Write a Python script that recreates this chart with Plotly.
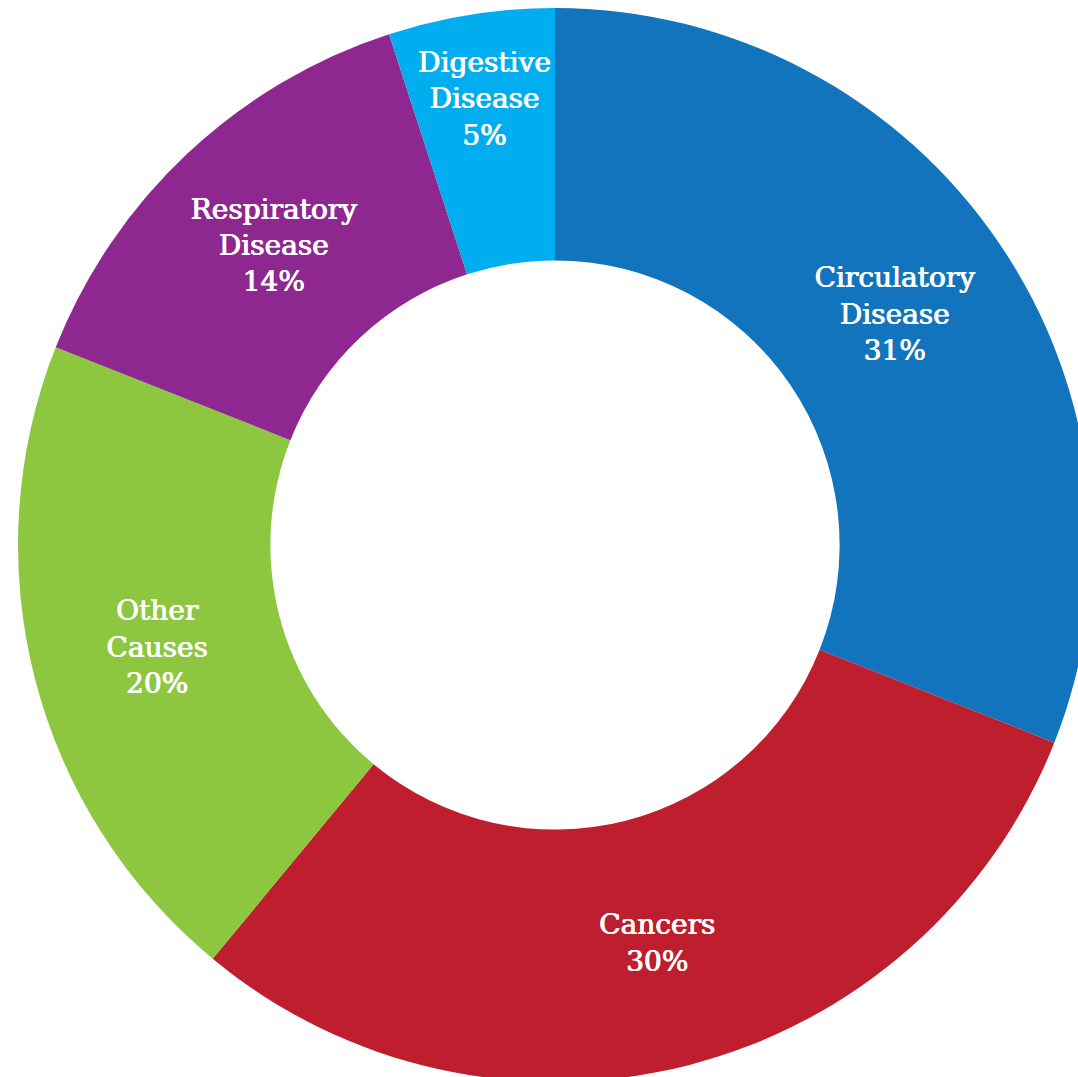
import math
import plotly.graph_objects as go

categories = ["Circulatory<br>Disease", "Cancers", "Other<br>Causes", "Respiratory<br>Disease", "Digestive<br>Disease"]
values = [31, 30, 20, 14, 5]
colors = ["#1174BC", "#BE1E2D", "#8DC63F", "#8E278F", "#00AEEF"]

FONT = dict(family="DejaVu Serif", size=28, color="white",
            shadow="0.6px 0 0 white, -0.3px 0 0 white")

# the smallest slice keeps its full-size label as an annotation (plotly would shrink it)
small = len(values) - 1
texts = [f"{c}<br>{v}%" if i != small else "" for i, (c, v) in enumerate(zip(categories, values))]

fig = go.Figure(go.Pie(
    labels=categories,
    values=values,
    hole=0.53,
    sort=False,
    direction="clockwise",
    rotation=0,
    marker=dict(colors=colors, line=dict(width=0)),
    text=texts,
    textinfo="text",
    textposition="inside",
    insidetextorientation="horizontal",
    textfont=FONT,
    showlegend=False,
    hoverinfo="label+value",
))

W, H = 1110, 1090
ML, MT = 18, 8
R = (W - 2 * ML) / 2
total = sum(values)
start = sum(values[:small])
mid = (start + values[small] / 2) / total * 2 * math.pi
rr = 0.84 * R
dx = rr * math.sin(mid)
dy = rr * math.cos(mid)
fig.add_annotation(
    x=0.5 + dx / (W - 2 * ML), y=0.5 + dy / (H - 2 * MT),
    xref="paper", yref="paper", showarrow=False,
    xanchor="center", yanchor="middle",
    text=f"{categories[small]}<br>{values[small]}%",
    font=FONT, align="center",
)

fig.update_layout(
    width=W,
    height=H,
    margin=dict(l=ML, r=ML, t=MT, b=MT),
    paper_bgcolor="white",
)

fig.write_html("out.html", post_script="document.body.style.margin='0';document.body.style.overflow='hidden';")
